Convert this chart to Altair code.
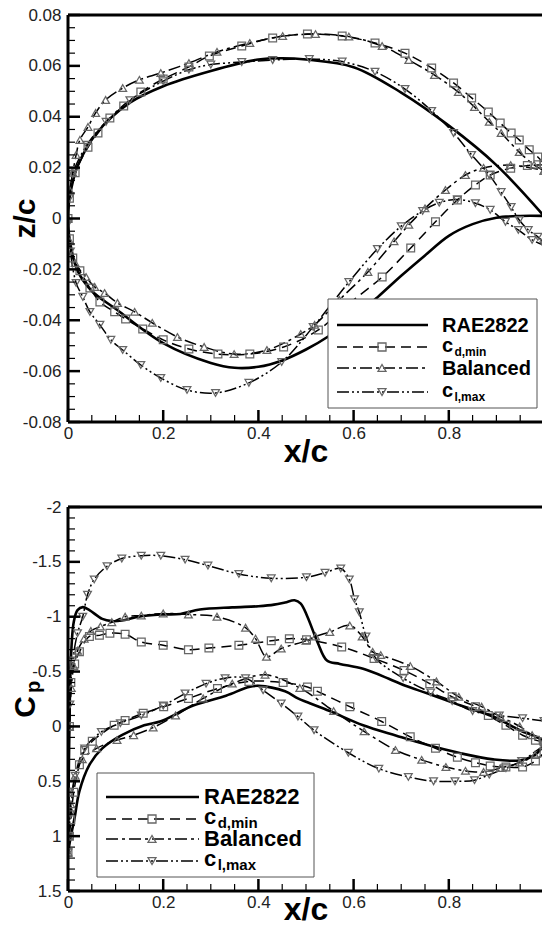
import altair as alt
import pandas as pd

FONT = "Liberation Sans"

# ---------------- airfoil geometry: z/c vs x/c (upper / lower, LE -> TE) ----------------
rae_up_x = [0.0, 0.002, 0.006, 0.02, 0.06, 0.13, 0.2, 0.3, 0.4, 0.45, 0.5, 0.6, 0.7, 0.8, 0.9, 1.0]
rae_up_z = [0.0, 0.0065, 0.011, 0.0205, 0.0335, 0.0455, 0.052, 0.058, 0.0625, 0.063, 0.0625, 0.0595, 0.0495, 0.0365, 0.021, 0.001]
rae_lo_x = [0.0, 0.002, 0.006, 0.02, 0.05, 0.1, 0.2, 0.3, 0.35, 0.4, 0.45, 0.5, 0.55, 0.6, 0.65, 0.7, 0.75, 0.8, 0.85, 0.9, 0.95, 1.0]
rae_lo_z = [0.0, -0.0062, -0.011, -0.0205, -0.0285, -0.0355, -0.049, -0.0568, -0.0587, -0.0583, -0.0558, -0.0515, -0.046, -0.039, -0.031, -0.0225, -0.0145, -0.0068, -0.0022, 0.0003, 0.001, 0.001]

cdmin_up_x = [0.0, 0.003, 0.015, 0.042, 0.063, 0.088, 0.117, 0.153, 0.2, 0.254, 0.297, 0.365, 0.43, 0.503, 0.576, 0.645, 0.708, 0.764, 0.81, 0.848, 0.883, 0.908, 0.931, 0.948, 0.969, 0.987, 1.0]
cdmin_up_z = [0.0, 0.008, 0.018, 0.028, 0.0336, 0.0395, 0.0442, 0.0497, 0.0548, 0.0596, 0.0639, 0.0678, 0.071, 0.0725, 0.0717, 0.069, 0.065, 0.0592, 0.0533, 0.0474, 0.0419, 0.0375, 0.0336, 0.0309, 0.027, 0.0242, 0.0215]
cdmin_lo_x = [0.0, 0.003, 0.01, 0.025, 0.046, 0.067, 0.098, 0.121, 0.157, 0.2, 0.254, 0.315, 0.382, 0.453, 0.526, 0.59, 0.66, 0.72, 0.772, 0.818, 0.856, 0.887, 0.93, 0.965, 1.0]
cdmin_lo_z = [0.0, -0.008, -0.0155, -0.0205, -0.0273, -0.0328, -0.0367, -0.0395, -0.0434, -0.0477, -0.0513, -0.0533, -0.0533, -0.0505, -0.0438, -0.0335, -0.023, -0.0116, -0.0013, 0.0073, 0.0132, 0.0171, 0.0198, 0.0208, 0.0212]

bal_up_x = [0.0, 0.004, 0.01, 0.017, 0.025, 0.042, 0.058, 0.079, 0.115, 0.15, 0.195, 0.254, 0.313, 0.382, 0.451, 0.52, 0.59, 0.66, 0.716, 0.77, 0.82, 0.854, 0.885, 0.91, 0.948, 0.979, 1.0]
bal_up_z = [0.0, 0.011, 0.018, 0.025, 0.0309, 0.036, 0.0415, 0.0466, 0.0513, 0.0545, 0.0572, 0.0611, 0.0655, 0.069, 0.0717, 0.0725, 0.0715, 0.0678, 0.0623, 0.0564, 0.0497, 0.0438, 0.038, 0.0336, 0.0261, 0.0211, 0.0188]
bal_lo_x = [0.0, 0.004, 0.015, 0.038, 0.056, 0.077, 0.104, 0.14, 0.177, 0.23, 0.286, 0.349, 0.418, 0.489, 0.518, 0.57, 0.63, 0.685, 0.716, 0.75, 0.793, 0.835, 0.873, 0.93, 1.0]
bal_lo_z = [0.0, -0.009, -0.0175, -0.023, -0.0269, -0.0293, -0.0332, -0.0367, -0.041, -0.0466, -0.0505, -0.0533, -0.0517, -0.0454, -0.0418, -0.032, -0.021, -0.009, -0.0025, 0.004, 0.0112, 0.0171, 0.0199, 0.021, 0.0188]

clmax_up_x = [0.0, 0.003, 0.01, 0.04, 0.08, 0.13, 0.2, 0.254, 0.3, 0.365, 0.43, 0.507, 0.576, 0.645, 0.708, 0.764, 0.81, 0.848, 0.885, 0.91, 0.931, 0.948, 0.967, 0.987, 1.0]
clmax_up_z = [-0.002, 0.008, 0.0175, 0.029, 0.038, 0.0465, 0.054, 0.0585, 0.0605, 0.0615, 0.0623, 0.0627, 0.0617, 0.0577, 0.0509, 0.0423, 0.0336, 0.025, 0.0171, 0.0104, 0.0045, -0.0006, -0.0045, -0.0072, -0.0095]
clmax_lo_x = [0.0, 0.005, 0.017, 0.031, 0.046, 0.067, 0.09, 0.115, 0.153, 0.195, 0.25, 0.31, 0.38, 0.449, 0.515, 0.59, 0.65, 0.70, 0.745, 0.78, 0.818, 0.856, 0.887, 0.919, 0.946, 0.975, 1.0]
clmax_lo_z = [-0.002, -0.013, -0.0253, -0.0308, -0.0367, -0.0418, -0.0477, -0.0517, -0.0576, -0.0627, -0.0674, -0.0686, -0.0646, -0.0564, -0.0426, -0.025, -0.012, -0.003, 0.003, 0.0062, 0.0075, 0.006, 0.0034, -0.0013, -0.0045, -0.0084, -0.0105]

# ---------------- pressure coefficient: Cp vs x/c (upper / lower, LE -> TE) ----------------
rae_cpu_x = [0.0, 0.001, 0.003, 0.006, 0.012, 0.02, 0.031, 0.045, 0.072, 0.092, 0.113, 0.148, 0.195, 0.236, 0.277, 0.345, 0.4, 0.433, 0.456, 0.476, 0.489, 0.503, 0.524, 0.544, 0.571, 0.62, 0.674, 0.709, 0.756, 0.825, 0.893, 0.949, 0.981, 1.0]
rae_cpu = [1.15, 0.7, 0.0, -0.6, -0.95, -1.06, -1.087, -1.06, -0.98, -0.96, -0.965, -1.0, -1.02, -1.025, -1.065, -1.085, -1.096, -1.11, -1.13, -1.15, -1.12, -1.0, -0.77, -0.6, -0.57, -0.525, -0.435, -0.37, -0.3, -0.19, -0.09, 0.035, 0.09, 0.13]
rae_cpl_x = [0.0, 0.002, 0.006, 0.014, 0.024, 0.045, 0.072, 0.113, 0.16, 0.195, 0.263, 0.332, 0.38, 0.4, 0.456, 0.483, 0.503, 0.55, 0.62, 0.69, 0.756, 0.825, 0.893, 0.949, 0.981, 1.0]
rae_cpl = [1.15, 1.1, 1.0, 0.83, 0.59, 0.35, 0.2, 0.08, -0.01, -0.047, -0.19, -0.28, -0.36, -0.37, -0.32, -0.255, -0.22, -0.14, -0.01, 0.085, 0.17, 0.245, 0.3, 0.31, 0.26, 0.17]

cdmin_cpu_x = [0.0, 0.001, 0.003, 0.006, 0.014, 0.024, 0.045, 0.066, 0.088, 0.12, 0.154, 0.2, 0.253, 0.296, 0.359, 0.427, 0.465, 0.501, 0.575, 0.643, 0.706, 0.76, 0.807, 0.856, 0.883, 0.92, 0.955, 0.982, 1.0]
cdmin_cpu = [1.15, 0.6, 0.0, -0.4, -0.57, -0.68, -0.82, -0.83, -0.85, -0.84, -0.77, -0.74, -0.70, -0.715, -0.74, -0.78, -0.80, -0.79, -0.725, -0.62, -0.51, -0.39, -0.27, -0.18, -0.1, -0.01, 0.08, 0.125, 0.14]
cdmin_cpl_x = [0.0, 0.003, 0.006, 0.012, 0.024, 0.035, 0.051, 0.097, 0.12, 0.158, 0.201, 0.253, 0.314, 0.38, 0.452, 0.503, 0.524, 0.592, 0.659, 0.719, 0.772, 0.818, 0.856, 0.887, 0.92, 0.955, 0.982, 1.0]
cdmin_cpl = [1.15, 1.0, 0.85, 0.6, 0.35, 0.22, 0.135, -0.01, -0.055, -0.12, -0.18, -0.255, -0.345, -0.41, -0.40, -0.36, -0.32, -0.18, -0.045, 0.095, 0.2, 0.28, 0.33, 0.36, 0.37, 0.37, 0.315, 0.24]

bal_cpu_x = [0.0, 0.001, 0.003, 0.007, 0.012, 0.02, 0.034, 0.048, 0.068, 0.092, 0.12, 0.154, 0.2, 0.253, 0.313, 0.373, 0.394, 0.417, 0.448, 0.5, 0.52, 0.55, 0.592, 0.618, 0.64, 0.657, 0.719, 0.774, 0.821, 0.869, 0.908, 0.949, 0.975, 1.0]
bal_cpu = [1.15, 0.6, 0.0, -0.35, -0.55, -0.69, -0.8, -0.87, -0.91, -0.95, -1.0, -1.01, -1.03, -1.02, -1.0, -0.9, -0.8, -0.635, -0.71, -0.78, -0.82, -0.86, -0.92, -0.82, -0.68, -0.65, -0.55, -0.41, -0.27, -0.18, -0.09, 0.0, 0.08, 0.13]
bal_cpl_x = [0.0, 0.002, 0.006, 0.015, 0.03, 0.06, 0.103, 0.138, 0.179, 0.226, 0.284, 0.345, 0.414, 0.487, 0.558, 0.622, 0.688, 0.743, 0.794, 0.835, 0.873, 0.908, 0.949, 0.981, 1.0]
bal_cpl = [1.15, 1.0, 0.71, 0.45, 0.3, 0.2, 0.125, 0.08, 0.01, -0.1, -0.255, -0.39, -0.47, -0.35, -0.14, 0.045, 0.215, 0.305, 0.37, 0.405, 0.415, 0.38, 0.33, 0.26, 0.17]

clmax_cpu_x = [0.0, 0.001, 0.004, 0.01, 0.02, 0.031, 0.041, 0.055, 0.082, 0.113, 0.154, 0.195, 0.246, 0.294, 0.359, 0.427, 0.501, 0.54, 0.573, 0.591, 0.602, 0.612, 0.626, 0.647, 0.704, 0.762, 0.807, 0.85, 0.906, 0.955, 1.0]
clmax_cpu = [1.15, 0.6, -0.2, -0.6, -0.85, -1.0, -1.2, -1.34, -1.46, -1.53, -1.556, -1.556, -1.52, -1.466, -1.39, -1.35, -1.36, -1.40, -1.44, -1.34, -1.16, -1.04, -0.82, -0.62, -0.44, -0.31, -0.23, -0.14, -0.1, -0.075, -0.05]
clmax_cpl_x = [0.0, 0.002, 0.005, 0.015, 0.035, 0.07, 0.11, 0.154, 0.2, 0.246, 0.29, 0.33, 0.373, 0.41, 0.448, 0.483, 0.517, 0.589, 0.653, 0.715, 0.768, 0.813, 0.854, 0.885, 0.92, 0.953, 1.0]
clmax_cpl = [1.15, 1.0, 0.8, 0.45, 0.2, 0.05, -0.03, -0.1, -0.19, -0.3, -0.39, -0.44, -0.44, -0.33, -0.21, -0.09, 0.035, 0.24, 0.385, 0.46, 0.5, 0.5, 0.49, 0.44, 0.38, 0.315, 0.17]

# ---------------- axes ----------------
x_major = [0.0, 0.2, 0.4, 0.6, 0.8, 1.0]
x_labels = [0.0, 0.2, 0.4, 0.6, 0.8]
x_minor = [round(i * 0.05, 2) for i in range(21) if i % 4]
z_major = [-0.08, -0.06, -0.04, -0.02, 0.0, 0.02, 0.04, 0.06, 0.08]
z_minor = [round(-0.08 + i * 0.005, 3) for i in range(33) if i % 4]
cp_major = [-2.0, -1.5, -1.0, -0.5, 0.0, 0.5, 1.0, 1.5]
cp_minor = [round(-2.0 + i * 0.1, 1) for i in range(36) if i % 5]

STYLE = {
    "RAE2822": dict(dash=None, width=2.6, shape=None),
    "cdmin": dict(dash=[10, 6], width=1.5, shape="square"),
    "Balanced": dict(dash=[12, 4, 3, 4], width=1.5, shape="triangle-up"),
    "clmax": dict(dash=[12, 3, 2, 3, 2, 3], width=1.5, shape="triangle-down"),
}
ONE = pd.DataFrame({"k": [0]})
MARK_STROKE = "#666666"


def loop_df(ux, uy, lx, ly):
    xs = list(reversed(ux)) + list(lx[1:])
    ys = list(reversed(uy)) + list(ly[1:])
    return pd.DataFrame({"x": xs, "y": ys, "i": list(range(len(xs)))})


def txt(text, x, y, size, align="left", baseline="alphabetic", angle=0, weight="bold"):
    return alt.Chart(ONE).mark_text(
        text=text, font=FONT, fontSize=size, fontWeight=weight, align=align,
        baseline=baseline, angle=angle, color="black"
    ).encode(x=alt.value(x), y=alt.value(y))


def hrule(x0, x1, y, w, dash=None, color="black"):
    kw = dict(color=color, strokeWidth=w)
    if dash:
        kw["strokeDash"] = dash
    return alt.Chart(ONE).mark_rule(**kw).encode(x=alt.value(x0), x2=alt.value(x1), y=alt.value(y))


def vrule(x, y0, y1, w):
    return alt.Chart(ONE).mark_rule(color="black", strokeWidth=w).encode(
        x=alt.value(x), y=alt.value(y0), y2=alt.value(y1))


def legend(box, rows, lx0, lx1, mx, tx, main, sub):
    x0, x1, y0, y1 = box
    out = [alt.Chart(ONE).mark_rect(fill="white", stroke="#555", strokeWidth=1).encode(
        x=alt.value(x0), x2=alt.value(x1), y=alt.value(y0), y2=alt.value(y1))]
    for key, Y in rows:
        st = STYLE[key]
        out.append(hrule(lx0, lx1, Y, st["width"], st["dash"]))
        if st["shape"]:
            out.append(alt.Chart(ONE).mark_point(
                shape=st["shape"], filled=False, stroke=MARK_STROKE, strokeWidth=1.3,
                size=64, opacity=1).encode(x=alt.value(mx), y=alt.value(Y)))
        if key == "RAE2822":
            out.append(txt("RAE2822", tx, Y + 7, main))
        elif key == "Balanced":
            out.append(txt("Balanced", tx, Y + 7, main))
        else:
            out.append(txt("c", tx, Y + 5, main))
            out.append(txt("d,min" if key == "cdmin" else "l,max", tx + main * 0.62, Y + 9, sub))
    return out


def panel(curves, ys, y_major, y_minor, ylabel_expr, W, H):
    xs = alt.Scale(domain=[0, 1], nice=False, zero=False)
    xaxis = alt.Axis(values=x_labels, labelExpr="datum.value == 0 ? '0' : format(datum.value, '.1f')",
                     ticks=False, domain=False, grid=False, labelFont=FONT, labelFontSize=17,
                     labelColor="#222", labelPadding=3, labelFlush=False, labelOverlap=False, title=None)
    yaxis = alt.Axis(values=y_major, labelExpr=ylabel_expr, ticks=False, domain=False, grid=False,
                     labelFont=FONT, labelFontSize=17, labelColor="#222", labelPadding=7,
                     labelOverlap=False, title=None)
    X = lambda f: alt.X(f, scale=xs, axis=xaxis)
    Y = lambda f: alt.Y(f, scale=ys, axis=yaxis)
    layers = []
    for key, (ux, uy, lx, ly) in curves.items():
        st = STYLE[key]
        kw = dict(interpolate="catmull-rom", color="black", strokeWidth=st["width"], clip=True)
        if st["dash"]:
            kw["strokeDash"] = st["dash"]
        layers.append(alt.Chart(loop_df(ux, uy, lx, ly)).mark_line(**kw).encode(
            x=X("x:Q"), y=Y("y:Q"), order="i:Q"))
    for key, (ux, uy, lx, ly) in curves.items():
        st = STYLE[key]
        if not st["shape"]:
            continue
        layers.append(alt.Chart(loop_df(ux, uy, lx, ly)).mark_point(
            shape=st["shape"], filled=False, stroke=MARK_STROKE, strokeWidth=1.25, size=60,
            opacity=1, clip=True).encode(x=X("x:Q"), y=Y("y:Q")))
    # inward ticks
    layers.append(alt.Chart(pd.DataFrame({"x": x_major})).mark_rule(color="black", strokeWidth=2.5).encode(
        x=X("x:Q"), y=alt.value(H), y2=alt.value(H - 12)))
    layers.append(alt.Chart(pd.DataFrame({"x": x_minor})).mark_rule(color="black", strokeWidth=1.2).encode(
        x=X("x:Q"), y=alt.value(H), y2=alt.value(H - 7)))
    layers.append(alt.Chart(pd.DataFrame({"y": y_major})).mark_rule(color="black", strokeWidth=2.5).encode(
        y=Y("y:Q"), x=alt.value(0), x2=alt.value(12)))
    layers.append(alt.Chart(pd.DataFrame({"y": y_minor})).mark_rule(color="black", strokeWidth=1.2).encode(
        y=Y("y:Q"), x=alt.value(0), x2=alt.value(7)))
    # frame
    layers += [vrule(0, 0, H, 3), hrule(0, W, H, 3), hrule(0, W, 0, 3)]
    return layers


W1, H1 = 476, 407
W2, H2 = 476, 384

top_curves = {
    "RAE2822": (rae_up_x, rae_up_z, rae_lo_x, rae_lo_z),
    "cdmin": (cdmin_up_x, cdmin_up_z, cdmin_lo_x, cdmin_lo_z),
    "Balanced": (bal_up_x, bal_up_z, bal_lo_x, bal_lo_z),
    "clmax": (clmax_up_x, clmax_up_z, clmax_lo_x, clmax_lo_z),
}
bot_curves = {
    "RAE2822": (rae_cpu_x, rae_cpu, rae_cpl_x, rae_cpl),
    "cdmin": (cdmin_cpu_x, cdmin_cpu, cdmin_cpl_x, cdmin_cpl),
    "Balanced": (bal_cpu_x, bal_cpu, bal_cpl_x, bal_cpl),
    "clmax": (clmax_cpu_x, clmax_cpu, clmax_cpl_x, clmax_cpl),
}

top_layers = panel(top_curves, alt.Scale(domain=[-0.08, 0.08], nice=False, zero=False),
                   z_major, z_minor,
                   "datum.value == 0 ? '0' : (datum.value < 0 ? '-' : '') + format(abs(datum.value), '.2f')",
                   W1, H1)
top_layers += legend((260, 469, 284, 393),
                     [("RAE2822", 310), ("cdmin", 332), ("Balanced", 353), ("clmax", 377)],
                     269, 360, 314, 374, 20, 12)
top_layers += [txt("x/c", W1 / 2, H1 + 30, 32, align="center", baseline="middle"),
               txt("z/c", -42, H1 / 2, 30, align="center", baseline="middle", angle=270)]
top = alt.layer(*top_layers).properties(width=W1, height=H1)

bot_layers = panel(bot_curves, alt.Scale(domain=[-2, 1.5], nice=False, zero=False, reverse=True),
                   cp_major, cp_minor,
                   "(datum.value < 0 ? '-' : '') + abs(datum.value)",
                   W2, H2)
bot_layers += legend((29, 246, 266, 370),
                     [("RAE2822", 290), ("cdmin", 312), ("Balanced", 332), ("clmax", 354)],
                     38, 131, 84, 136, 22, 15)
bot_layers += [txt("x/c", W2 / 2, H2 + 19, 32, align="center", baseline="middle"),
               txt("C", -42, H2 / 2 + 8, 30, align="center", baseline="middle", angle=270),
               txt("p", -34, H2 / 2 - 12, 20, align="center", baseline="middle", angle=270)]
bottom = alt.layer(*bot_layers).properties(width=W2, height=H2)

chart = alt.vconcat(top, bottom, spacing=28).properties(
    padding={"left": 2, "top": -3, "right": -4, "bottom": -2}, background="white"
).configure_view(stroke="#333", strokeWidth=1)

chart.save("out.html", embed_options={"renderer": "svg", "actions": False})
